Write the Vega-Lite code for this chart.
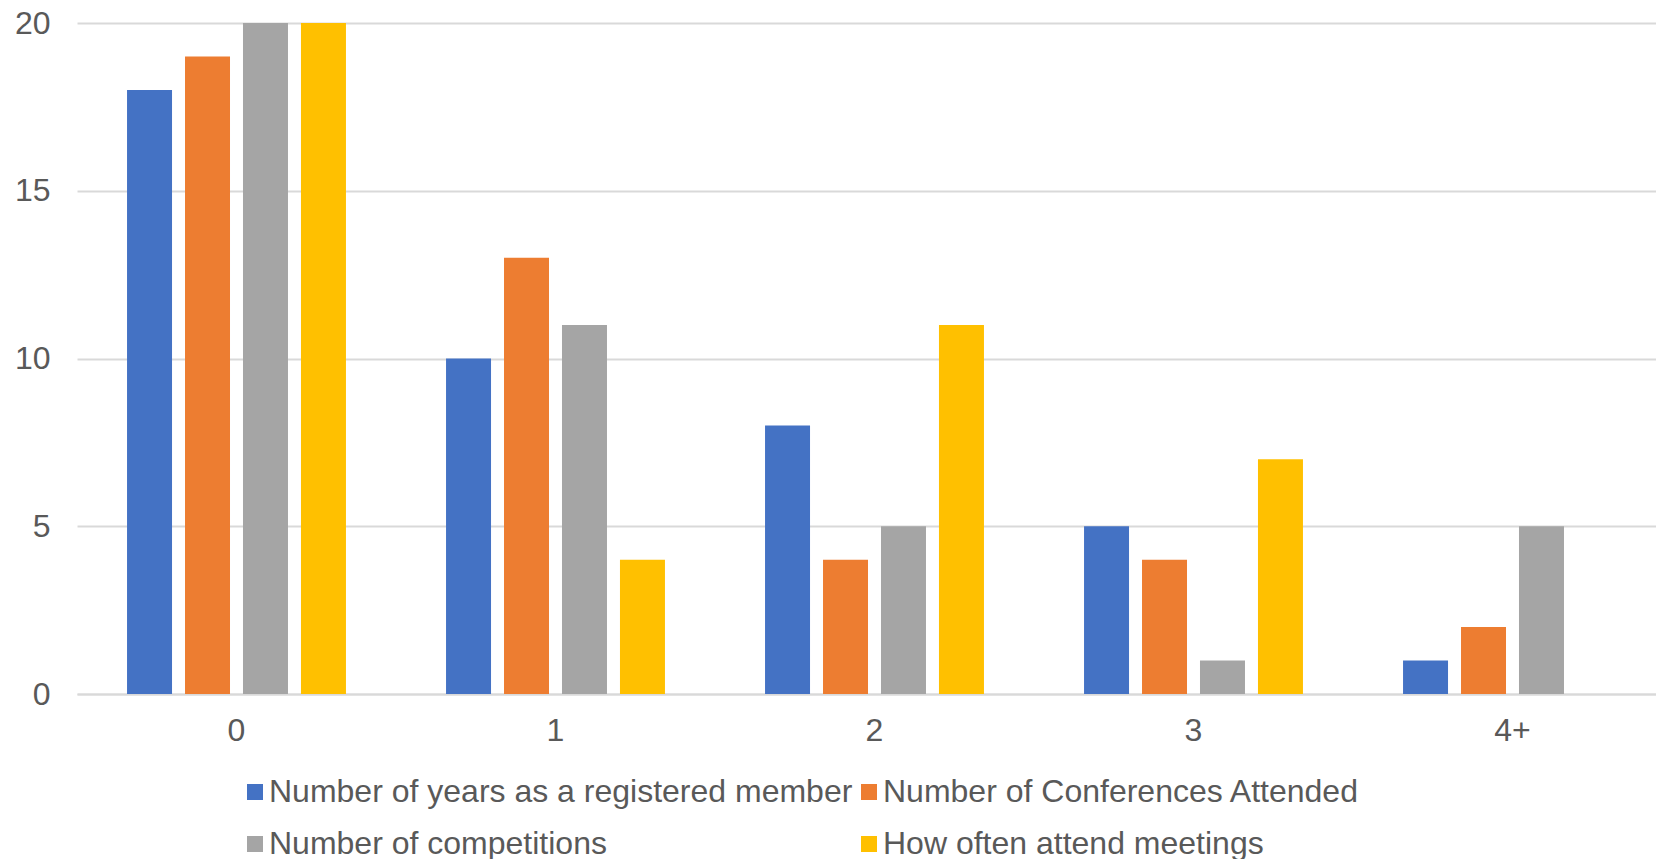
{
  "$schema": "https://vega.github.io/schema/vega-lite/v6.json",
  "autosize": {"type": "none"},
  "width": 1579,
  "height": 671,
  "padding": {"left": 77, "top": 23, "right": 0, "bottom": 165},
  "background": "white",
  "config": {
    "font": "Liberation Sans",
    "view": {"stroke": null},
    "axis": {"labelFont": "Liberation Sans", "labelColor": "#595959", "labelFontSize": 32, "title": null}
  },
  "data": {
    "values": [
      {"category": "0", "series": "Number of years as a registered member", "value": 18},
      {"category": "0", "series": "Number of Conferences Attended", "value": 19},
      {"category": "0", "series": "Number of competitions", "value": 20},
      {"category": "0", "series": "How often attend meetings", "value": 20},
      {"category": "1", "series": "Number of years as a registered member", "value": 10},
      {"category": "1", "series": "Number of Conferences Attended", "value": 13},
      {"category": "1", "series": "Number of competitions", "value": 11},
      {"category": "1", "series": "How often attend meetings", "value": 4},
      {"category": "2", "series": "Number of years as a registered member", "value": 8},
      {"category": "2", "series": "Number of Conferences Attended", "value": 4},
      {"category": "2", "series": "Number of competitions", "value": 5},
      {"category": "2", "series": "How often attend meetings", "value": 11},
      {"category": "3", "series": "Number of years as a registered member", "value": 5},
      {"category": "3", "series": "Number of Conferences Attended", "value": 4},
      {"category": "3", "series": "Number of competitions", "value": 1},
      {"category": "3", "series": "How often attend meetings", "value": 7},
      {"category": "4+", "series": "Number of years as a registered member", "value": 1},
      {"category": "4+", "series": "Number of Conferences Attended", "value": 2},
      {"category": "4+", "series": "Number of competitions", "value": 5},
      {"category": "4+", "series": "How often attend meetings", "value": 0}
    ]
  },
  "mark": {"type": "bar", "clip": false},
  "encoding": {
    "x": {
      "field": "category",
      "type": "nominal",
      "sort": ["0", "1", "2", "3", "4+"],
      "scale": {"range": [0, 1595], "paddingInner": 0.273, "paddingOuter": 0.1365},
      "axis": {
        "labelAngle": 0,
        "domainColor": "#d9d9d9",
        "domainWidth": 2,
        "ticks": false,
        "labelPadding": 21,
        "grid": false
      }
    },
    "xOffset": {
      "field": "series",
      "type": "nominal",
      "sort": ["Number of years as a registered member", "Number of Conferences Attended", "Number of competitions", "How often attend meetings"],
      "scale": {"paddingInner": 0.224, "paddingOuter": 0.112}
    },
    "y": {
      "field": "value",
      "type": "quantitative",
      "scale": {"domain": [0, 20], "nice": false},
      "axis": {
        "values": [0, 5, 10, 15, 20],
        "domain": false,
        "ticks": false,
        "gridColor": "#d9d9d9",
        "gridWidth": 2,
        "labelPadding": 27
      }
    },
    "color": {
      "field": "series",
      "type": "nominal",
      "sort": ["Number of years as a registered member", "Number of Conferences Attended", "Number of competitions", "How often attend meetings"],
      "scale": {"range": ["#4472C4", "#ED7D31", "#A5A5A5", "#FFC000"]},
      "legend": {
        "title": null,
        "orient": "none",
        "direction": "horizontal",
        "legendX": 162,
        "legendY": 753,
        "columns": 2,
        "columnPadding": 0,
        "rowPadding": 20,
        "symbolType": "square",
        "symbolSize": 256,
        "symbolStrokeWidth": 0,
        "labelFont": "Liberation Sans",
        "labelFontSize": 32,
        "labelColor": "#595959",
        "labelOffset": -2,
        "labelLimit": 1000
      }
    }
  }
}
